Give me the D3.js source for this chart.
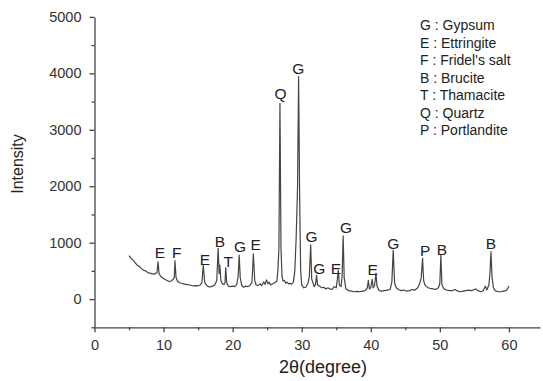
<!DOCTYPE html>
<html>
<head>
<meta charset="utf-8">
<script src="https://cdn.jsdelivr.net/npm/d3@7"></script>
<style>
  body { margin: 0; background: #fff; }
  svg { display: block; font-family: "Liberation Sans", Arial, sans-serif; }
</style>
</head>
<body>
<svg id="chart" width="543" height="381"></svg>
<script>
// XRD trace: [2theta, intensity]
const pattern = [
  [5.0, 770], [5.3, 720], [5.6, 690], [5.9, 640], [6.2, 600], [6.5, 580], [6.8, 540], [7.1, 510],
  [7.4, 500], [7.7, 470], [8.0, 460], [8.3, 450], [8.6, 440], [8.9, 460],
  [9.05, 470], [9.2, 660], [9.35, 450], [9.6, 400], [9.9, 370], [10.2, 350], [10.5, 330], [10.8, 310],
  [11.1, 320], [11.4, 350], [11.55, 380], [11.65, 680], [11.8, 390], [12.0, 320], [12.3, 290],
  [12.6, 280], [12.9, 270], [13.2, 260], [13.5, 255], [13.8, 250], [14.1, 240], [14.4, 235],
  [14.7, 240], [15.0, 235], [15.3, 250], [15.55, 290], [15.75, 600], [15.95, 300], [16.2, 250],
  [16.5, 220], [16.8, 215], [17.1, 230], [17.4, 250], [17.7, 330], [17.9, 900], [18.05, 450],
  [18.15, 600], [18.3, 330], [18.5, 270], [18.75, 260], [18.9, 300], [19.0, 560], [19.15, 280],
  [19.4, 230], [19.7, 220], [20.0, 230], [20.3, 220], [20.6, 260], [20.8, 400], [20.95, 780],
  [21.1, 380], [21.3, 250], [21.6, 210], [21.9, 230], [22.2, 220], [22.5, 240], [22.8, 300],
  [23.0, 800], [23.2, 330], [23.4, 250], [23.7, 240], [24.0, 270], [24.2, 240], [24.5, 300],
  [24.7, 260], [24.9, 340], [25.1, 270], [25.3, 300], [25.5, 250], [25.8, 270], [26.1, 290],
  [26.4, 320], [26.55, 500], [26.7, 900], [26.85, 3470], [27.0, 900], [27.15, 400], [27.3, 320],
  [27.5, 330], [27.7, 280], [27.9, 300], [28.1, 270], [28.3, 280], [28.5, 260], [28.8, 300],
  [29.0, 500], [29.2, 1100], [29.4, 2000], [29.55, 3940], [29.7, 1800], [29.85, 500], [30.0, 250],
  [30.3, 200], [30.6, 210], [30.9, 280], [31.1, 400], [31.3, 960], [31.45, 350], [31.6, 300],
  [31.8, 220], [32.0, 260], [32.15, 420], [32.3, 250], [32.6, 230], [32.9, 200], [33.2, 210],
  [33.5, 180], [33.8, 200], [34.1, 180], [34.4, 170], [34.7, 220], [35.0, 200], [35.15, 340],
  [35.3, 510], [35.45, 250], [35.7, 220], [35.85, 400], [36.0, 1120], [36.15, 380], [36.4, 180],
  [36.8, 150], [37.2, 140], [37.6, 130], [38.0, 135], [38.4, 130], [38.8, 140], [39.2, 150],
  [39.5, 200], [39.65, 330], [39.8, 180], [40.0, 200], [40.2, 350], [40.35, 200], [40.55, 240],
  [40.75, 460], [40.9, 230], [41.2, 150], [41.6, 140], [42.0, 150], [42.4, 160], [42.8, 170],
  [43.05, 300], [43.25, 870], [43.45, 280], [43.7, 200], [44.0, 170], [44.4, 150], [44.8, 160],
  [45.2, 140], [45.6, 150], [46.0, 170], [46.4, 160], [46.8, 200], [47.1, 280], [47.3, 380],
  [47.5, 720], [47.65, 330], [47.8, 260], [48.0, 230], [48.3, 200], [48.6, 190], [49.0, 180],
  [49.4, 170], [49.8, 200], [50.0, 280], [50.15, 780], [50.3, 250], [50.6, 180], [51.0, 160],
  [51.4, 150], [51.8, 150], [52.2, 170], [52.6, 140], [53.0, 130], [53.4, 140], [53.8, 150],
  [54.2, 160], [54.6, 150], [55.0, 170], [55.2, 180], [55.5, 150], [55.9, 130], [56.3, 150],
  [56.6, 230], [56.8, 160], [57.1, 250], [57.25, 450], [57.4, 840], [57.55, 400], [57.75, 200],
  [58.0, 150], [58.4, 130], [58.8, 130], [59.2, 140], [59.6, 150], [59.8, 180], [60.0, 230]
];

// peak letters: [letter, 2theta, intensity where the letter sits]
const peakLabels = [
  ['E', 9.48, 833], ['F', 11.9, 833], ['E', 16.0, 709], ['B', 18.16, 1016], ['T', 19.36, 674],
  ['G', 21.06, 927], ['E', 23.33, 975], ['Q', 26.95, 3647], ['G', 29.5, 4090], ['G', 31.43, 1105],
  ['G', 32.53, 544], ['E', 34.95, 544], ['G', 36.4, 1271], ['E', 40.26, 527], ['G', 43.24, 988],
  ['P', 47.87, 856], ['B', 50.29, 881], ['B', 57.38, 988]
];

const legendItems = [
  'G : Gypsum', 'E : Ettringite', "F : Fridel's salt", 'B : Brucite',
  'T : Thamacite', 'Q : Quartz', 'P : Portlandite'
];

const xTicks = [0, 10, 20, 30, 40, 50, 60];
const xMinor = [5, 15, 25, 35, 45, 55];
const yTicks = [0, 1000, 2000, 3000, 4000, 5000];
const yMinor = [-500, 500, 1500, 2500, 3500, 4500];

const svg = d3.select('#chart');
const axisColor = '#444';
const textColor = '#333';

const x = d3.scaleLinear().domain([0, 64.5]).range([94.5, 540]);
const y = d3.scaleLinear().domain([-500, 5000]).range([327.3, 16.9]);

// minor ticks first, then major axes on top
svg.append('g')
  .attr('transform', 'translate(0,' + y(-500) + ')')
  .call(d3.axisBottom(x).tickValues(xMinor).tickSize(3).tickFormat(''))
  .call(g => g.select('.domain').remove());
svg.append('g')
  .attr('transform', 'translate(' + x(0) + ',0)')
  .call(d3.axisLeft(y).tickValues(yMinor).tickSize(3).tickFormat(''))
  .call(g => g.select('.domain').remove());

svg.append('g')
  .attr('transform', 'translate(0,' + y(-500) + ')')
  .call(d3.axisBottom(x).tickValues(xTicks).tickFormat(d3.format('d'))
    .tickSize(5).tickPadding(7).tickSizeOuter(0));
svg.append('g')
  .attr('transform', 'translate(' + x(0) + ',0)')
  .call(d3.axisLeft(y).tickValues(yTicks).tickFormat(d3.format('d'))
    .tickSize(5).tickPadding(8).tickSizeOuter(0));

svg.selectAll('.domain, .tick line').attr('stroke', axisColor).attr('stroke-width', 1.3);
svg.selectAll('.tick text')
  .attr('fill', textColor)
  .style('font-size', '14.5px')
  .style('font-family', '"Liberation Sans", Arial, sans-serif');

// trace
const line = d3.line().x(d => x(d[0])).y(d => y(d[1]));
svg.append('path')
  .datum(pattern)
  .attr('d', line)
  .attr('fill', 'none')
  .attr('stroke', '#444')
  .attr('stroke-width', 1.2)
  .attr('stroke-linejoin', 'round');

// peak letters
svg.append('g').selectAll('text')
  .data(peakLabels)
  .enter()
  .append('text')
  .attr('x', d => x(d[1]))
  .attr('y', d => y(d[2]))
  .attr('dy', '0.36em')
  .attr('text-anchor', 'middle')
  .attr('fill', '#222')
  .style('font-size', '15.5px')
  .text(d => d[0]);

// legend
svg.append('g').selectAll('text')
  .data(legendItems)
  .enter()
  .append('text')
  .attr('x', 420)
  .attr('y', (d, i) => 25 + i * 17.5)
  .attr('dy', '0.36em')
  .attr('fill', '#222')
  .style('font-size', '14px')
  .text(d => d);

// axis titles
svg.append('text')
  .attr('x', 323)
  .attr('y', 373)
  .attr('text-anchor', 'middle')
  .attr('fill', '#222')
  .style('font-size', '18px')
  .text('2θ(degree)');

svg.append('text')
  .attr('transform', 'translate(23,164) rotate(-90)')
  .attr('text-anchor', 'middle')
  .attr('fill', '#222')
  .style('font-size', '16px')
  .text('Intensity');
</script>
</body>
</html>
